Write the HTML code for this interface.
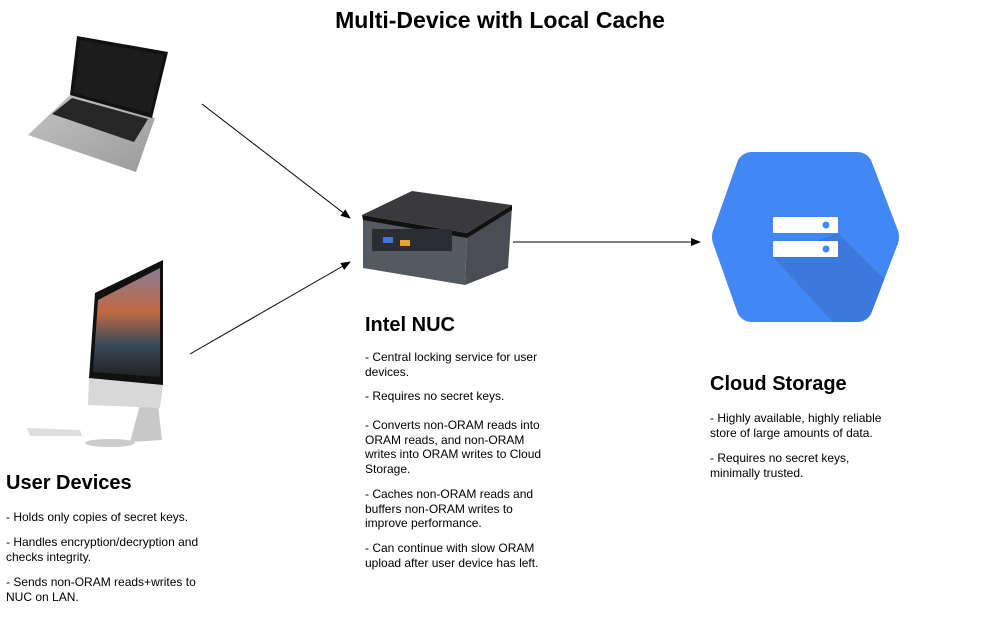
<!DOCTYPE html>
<html><head><meta charset="utf-8"><style>
body{margin:0;width:991px;height:630px;background:#fff;position:relative;overflow:hidden;font-family:"Liberation Sans",Arial,sans-serif;color:#000}
.t{position:absolute;font-size:12px;line-height:14.5px;white-space:nowrap}
.h{position:absolute;font-size:20px;font-weight:bold;white-space:nowrap;line-height:24px}
</style></head><body>
<svg width="991" height="630" style="position:absolute;left:0;top:0">
<defs>
<marker id="a" markerWidth="10" markerHeight="8" refX="9" refY="4" orient="auto" markerUnits="userSpaceOnUse"><path d="M0,0 L10,4 L0,8 Z" fill="#000"/></marker>
<linearGradient id="lb" x1="0" y1="0" x2="1" y2="1"><stop offset="0" stop-color="#c4c4c4"/><stop offset="1" stop-color="#9a9a9a"/></linearGradient>
<linearGradient id="sc" x1="0" y1="0" x2="0" y2="1"><stop offset="0" stop-color="#8a7a9a"/><stop offset="0.4" stop-color="#c06a40"/><stop offset="0.7" stop-color="#3a4a5a"/><stop offset="1" stop-color="#222"/></linearGradient>
<clipPath id="hx"><path d="M752,152 L857,152 Q866,152 871,160 L897,228 Q901,237 897,246 L871,314 Q866,322 857,322 L752,322 Q743,322 738,314 L714,246 Q710,237 714,228 L738,160 Q743,152 752,152 Z"/></clipPath>
</defs>
<!-- laptop -->
<polygon points="70,95 155,118 136,172 28,135" fill="url(#lb)"/>
<polygon points="72,98 148,119 134,142 52,114" fill="#262626"/>
<polygon points="77,36 168,52 152,118 70,95" fill="#111"/>
<polygon points="80,40 164,55 150,113 74,93" fill="#1c1c1c"/>
<!-- imac -->
<polygon points="140,405 158,405 162,440 130,442" fill="#c8c8c8"/>
<polygon points="89,378 163,385 160,408 88,405" fill="#d8d8d8"/>
<polygon points="95,293 163,260 163,385 89,378" fill="#111"/>
<polygon points="98,300 160,268 160,377 93,372" fill="url(#sc)"/>
<polygon points="27,428 80,430 82,436 30,436" fill="#ddd"/>
<ellipse cx="110" cy="443" rx="25" ry="4" fill="#ccc"/>
<!-- NUC -->
<polygon points="363,218 467,236 465,285 363,268" fill="#555a60"/>
<polygon points="467,236 512,207 508,268 465,285" fill="#4a4e54"/>
<polygon points="362,215 412,191 512,205 467,233" fill="#3a3a3c"/>
<polygon points="362,215 467,233 467,238 363,220" fill="#111"/>
<polygon points="467,233 512,205 512,210 467,238" fill="#111"/>
<rect x="372" y="229" width="80" height="22" fill="#2a2d31"/>
<rect x="383" y="237" width="10" height="6" fill="#3b7ad8"/>
<rect x="400" y="240" width="10" height="6" fill="#e8a030"/>
<!-- cloud -->
<g clip-path="url(#hx)">
<rect x="705" y="148" width="200" height="180" fill="#4387f5"/>
<path d="M838,233 L905,300 L905,330 L840,330 L773,257 Z" fill="#3c79dc"/>
</g>
<rect x="773" y="217" width="65" height="16" rx="1" fill="#fff"/>
<rect x="773" y="241" width="65" height="16" rx="1" fill="#fff"/>
<circle cx="826" cy="225" r="3.5" fill="#4387f5"/>
<circle cx="826" cy="249" r="3.5" fill="#4387f5"/>
<!-- arrows -->
<line x1="202" y1="104" x2="350" y2="218" stroke="#000" stroke-width="1" marker-end="url(#a)"/>
<line x1="190" y1="354" x2="350" y2="262" stroke="#000" stroke-width="1" marker-end="url(#a)"/>
<line x1="513" y1="242" x2="700" y2="242" stroke="#000" stroke-width="1" marker-end="url(#a)"/>
</svg>
<div class="h" style="left:0;width:1000px;text-align:center;top:6px;font-size:23px;line-height:28px">Multi-Device with Local Cache</div>

<div class="h" style="left:365px;top:313px">Intel NUC</div>
<div class="t" style="left:365px;top:350px">- Central locking service for user<br>devices.</div>
<div class="t" style="left:365px;top:389px">- Requires no secret keys.</div>
<div class="t" style="left:365px;top:418px">- Converts non-ORAM reads into<br>ORAM reads, and non-ORAM<br>writes into ORAM writes to Cloud<br>Storage.</div>
<div class="t" style="left:365px;top:487px">- Caches non-ORAM reads and<br>buffers non-ORAM writes to<br>improve performance.</div>
<div class="t" style="left:365px;top:541px">- Can continue with slow ORAM<br>upload after user device has left.</div>

<div class="h" style="left:710px;top:372px">Cloud Storage</div>
<div class="t" style="left:710px;top:411px">- Highly available, highly reliable<br>store of large amounts of data.</div>
<div class="t" style="left:710px;top:451px">- Requires no secret keys,<br>minimally trusted.</div>

<div class="h" style="left:6px;top:471px">User Devices</div>
<div class="t" style="left:6px;top:510px">- Holds only copies of secret keys.</div>
<div class="t" style="left:6px;top:535px">- Handles encryption/decryption and<br>checks integrity.</div>
<div class="t" style="left:6px;top:575px">- Sends non-ORAM reads+writes to<br>NUC on LAN.</div>
</body></html>
